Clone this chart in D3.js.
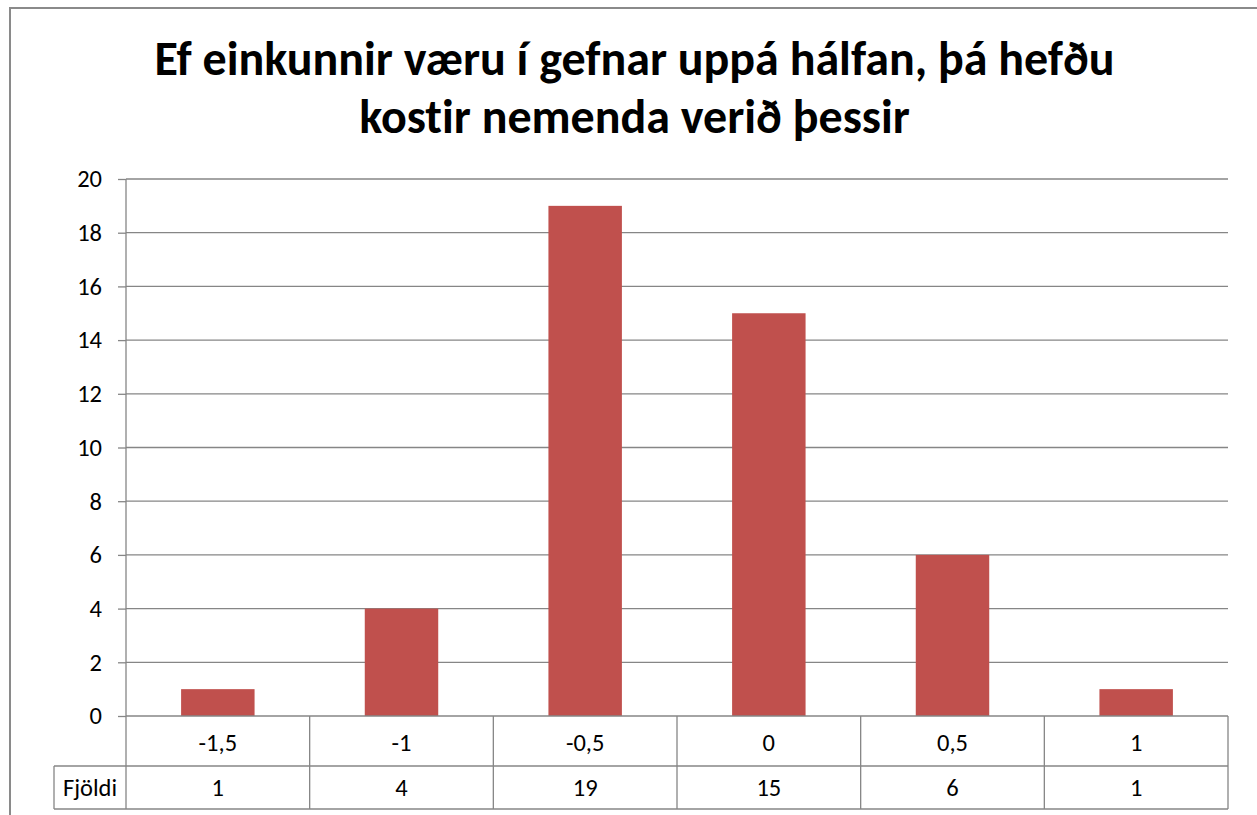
<!DOCTYPE html>
<html>
<head>
<meta charset="utf-8">
<script src="https://cdn.jsdelivr.net/npm/d3@7"></script>
<style>
  html, body { margin: 0; padding: 0; background: #fff; }
  svg { display: block; }
  text { font-family: Carlito, Calibri, Lato, "Open Sans", sans-serif; fill: #000; font-variant-ligatures: none; font-feature-settings: "liga" 0, "clig" 0; }
</style>
</head>
<body>
<svg id="chart" width="1257" height="815"></svg>
<script>
const titleLines = ["Ef einkunnir væru í gefnar uppá hálfan, þá hefðu", "kostir nemenda verið þessir"];
const categories = ["-1,5", "-1", "-0,5", "0", "0,5", "1"];
const values = [1, 4, 19, 15, 6, 1];
const seriesName = "Fjöldi";
const yTicks = [0, 2, 4, 6, 8, 10, 12, 14, 16, 18, 20];

(function () {
const svg = d3.select("#chart");
const gridColor = "#868686";
const barColor = "#C0504D";
const labelSize = 24.5;

const pLeft = 126, pRight = 1228, pTop = 179, pBottom = 716;
const row1Bottom = 766, row2Bottom = 809, labelLeft = 54;

// outer chart border
svg.append("rect")
  .attr("x", 10).attr("y", 8)
  .attr("width", 1300).attr("height", 900)
  .attr("fill", "none").attr("stroke", "#8a8a8a").attr("stroke-width", 2);

// title
const title = svg.append("g");
const baselines = [74.5, 133];
titleLines.forEach((t, i) => {
  title.append("text")
    .attr("x", 634.5).attr("y", baselines[i])
    .attr("text-anchor", "middle")
    .attr("font-weight", "bold")
    .attr("font-size", 48)
    .text(t);
});

// scales
const x = d3.scaleBand().domain(categories).range([pLeft, pRight]).paddingInner(0.6).paddingOuter(0.3);
const xCol = d3.scaleBand().domain(categories).range([pLeft, pRight]).padding(0);
const y = d3.scaleLinear().domain([0, 20]).range([pBottom, pTop]);

// gridlines
svg.append("g").selectAll("line").data(yTicks.filter(d => d > 0)).join("line")
  .attr("x1", pLeft).attr("x2", pRight)
  .attr("y1", d => y(d)).attr("y2", d => y(d))
  .attr("stroke", gridColor).attr("stroke-width", 1.3);

// y axis
const yAxis = d3.axisLeft(y).tickValues(yTicks).tickSize(8).tickPadding(16).tickFormat(d3.format("d"));
const ya = svg.append("g").attr("transform", `translate(${pLeft},0)`).call(yAxis);
ya.attr("font-size", labelSize).attr("font-family", null);
ya.select(".domain").attr("stroke", gridColor).attr("stroke-width", 1.3).attr("d", `M0,${pTop}V${row2Bottom}`);
ya.selectAll(".tick line").attr("stroke", gridColor).attr("stroke-width", 1.3);
ya.selectAll(".tick text").attr("fill", "#000");

// bars
svg.append("g").selectAll("rect").data(categories).join("rect")
  .attr("x", d => x(d))
  .attr("width", x.bandwidth())
  .attr("y", (d, i) => y(values[i]))
  .attr("height", (d, i) => y(0) - y(values[i]))
  .attr("fill", barColor);

// data table
const tbl = svg.append("g").attr("stroke", gridColor).attr("stroke-width", 1.3).attr("fill", "none");
tbl.append("line").attr("x1", pLeft).attr("x2", pRight).attr("y1", pBottom).attr("y2", pBottom);
tbl.append("line").attr("x1", labelLeft).attr("x2", pRight).attr("y1", row1Bottom).attr("y2", row1Bottom);
tbl.append("line").attr("x1", labelLeft).attr("x2", pRight).attr("y1", row2Bottom).attr("y2", row2Bottom);
tbl.append("line").attr("x1", labelLeft).attr("x2", labelLeft).attr("y1", row1Bottom).attr("y2", row2Bottom);
tbl.selectAll(".col").data(categories).join("line").attr("class", "col")
  .attr("x1", d => xCol(d) + xCol.bandwidth()).attr("x2", d => xCol(d) + xCol.bandwidth())
  .attr("y1", pBottom).attr("y2", row2Bottom);

const tt = svg.append("g").attr("font-size", labelSize).attr("text-anchor", "middle");
tt.selectAll(".cat").data(categories).join("text").attr("class", "cat")
  .attr("x", d => xCol(d) + xCol.bandwidth() / 2)
  .attr("y", (pBottom + row1Bottom) / 2 + 1)
  .attr("dy", "0.35em")
  .text(d => d);
tt.selectAll(".val").data(categories).join("text").attr("class", "val")
  .attr("x", d => xCol(d) + xCol.bandwidth() / 2)
  .attr("y", (row1Bottom + row2Bottom) / 2)
  .attr("dy", "0.35em")
  .text((d, i) => values[i]);
tt.append("text")
  .attr("x", (labelLeft + pLeft) / 2)
  .attr("y", (row1Bottom + row2Bottom) / 2)
  .attr("dy", "0.35em")
  .text(seriesName);
})();
</script>
</body>
</html>
